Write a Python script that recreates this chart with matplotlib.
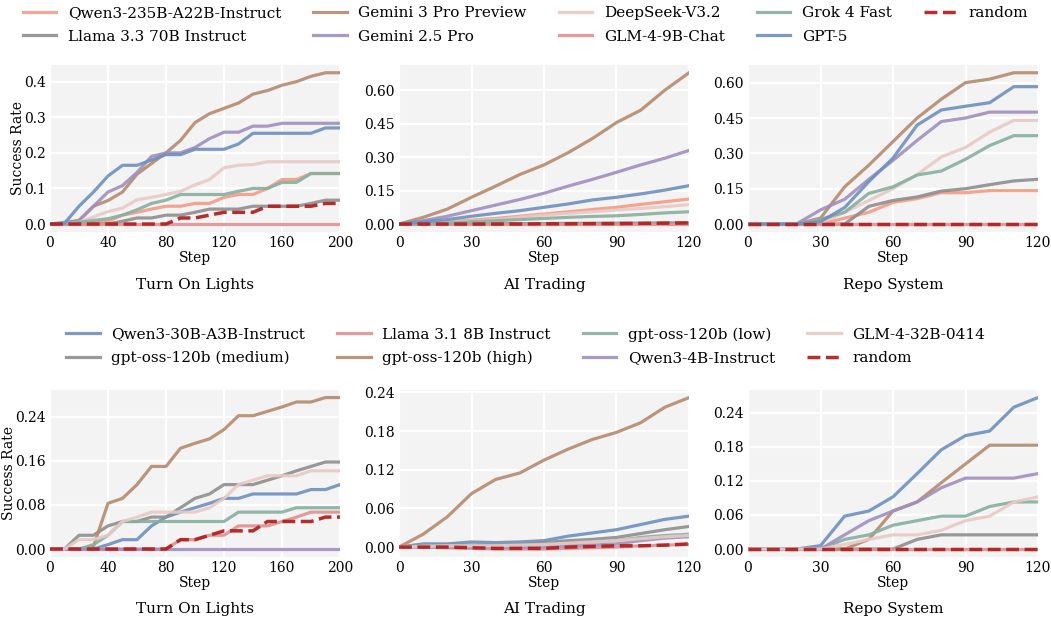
import matplotlib
matplotlib.use("Agg")
import matplotlib.pyplot as plt
from matplotlib.ticker import MultipleLocator

plt.rcParams['font.family'] = ['DejaVu Serif']

# ---------------- data ----------------
steps_lights = [0, 10, 20, 30, 40, 50, 60, 70, 80, 90, 100, 110, 120, 130, 140, 150, 160, 170, 180, 190, 200]
steps_trading = [0, 10, 20, 30, 40, 50, 60, 70, 80, 90, 100, 110, 120]
steps_repo = [0, 10, 20, 30, 40, 50, 60, 70, 80, 90, 100, 110, 120]

top_models = ["Qwen3-235B-A22B-Instruct", "Llama 3.3 70B Instruct", "Gemini 3 Pro Preview",
              "Gemini 2.5 Pro", "DeepSeek-V3.2", "GLM-4-9B-Chat", "Grok 4 Fast", "GPT-5", "random"]
top_colors = ["#F39C86", "#8E8E8E", "#B58B6E", "#A08FBF", "#E8C9C7", "#E09090", "#86B09F", "#6E90BE", "#B22222"]

bottom_models = ["Qwen3-30B-A3B-Instruct", "gpt-oss-120b (medium)", "Llama 3.1 8B Instruct",
                 "gpt-oss-120b (high)", "gpt-oss-120b (low)", "Qwen3-4B-Instruct", "GLM-4-32B-0414", "random"]
bottom_colors = ["#6E90BE", "#8E8E8E", "#E09090", "#B58B6E", "#86B09F", "#A08FBF", "#E8C9C7", "#B22222"]

# Top row: Turn On Lights
t_lights_qwen235 = [0, 0, 0, 0.005, 0.008, 0.025, 0.033, 0.042, 0.05, 0.05, 0.058, 0.058, 0.075, 0.083, 0.083, 0.1, 0.125, 0.125, 0.142, 0.142, 0.142]
t_lights_llama33 = [0, 0, 0, 0, 0, 0.008, 0.017, 0.017, 0.025, 0.025, 0.033, 0.042, 0.042, 0.042, 0.05, 0.05, 0.05, 0.05, 0.058, 0.067, 0.067]
t_lights_gem3 = [0, 0, 0.01, 0.05, 0.066, 0.09, 0.14, 0.17, 0.2, 0.235, 0.285, 0.31, 0.325, 0.34, 0.365, 0.375, 0.39, 0.40, 0.415, 0.425, 0.425]
t_lights_gem25 = [0, 0.005, 0.01, 0.05, 0.09, 0.108, 0.145, 0.19, 0.2, 0.2, 0.215, 0.24, 0.258, 0.258, 0.275, 0.275, 0.283, 0.283, 0.283, 0.283, 0.283]
t_lights_deepseek = [0, 0, 0.005, 0.02, 0.035, 0.045, 0.068, 0.075, 0.083, 0.092, 0.11, 0.125, 0.158, 0.165, 0.167, 0.175, 0.175, 0.175, 0.175, 0.175, 0.175]
t_lights_glm9 = [0, 0, 0, 0, 0, 0, 0, 0, 0, 0, 0, 0, 0, 0, 0, 0, 0, 0, 0, 0, 0]
t_lights_grok = [0, 0, 0.005, 0.01, 0.015, 0.025, 0.04, 0.058, 0.067, 0.083, 0.083, 0.083, 0.083, 0.092, 0.1, 0.1, 0.117, 0.117, 0.142, 0.142, 0.142]
t_lights_gpt5 = [0, 0.002, 0.05, 0.09, 0.135, 0.165, 0.165, 0.18, 0.195, 0.195, 0.21, 0.21, 0.21, 0.225, 0.255, 0.255, 0.255, 0.255, 0.255, 0.27, 0.27]
t_lights_random = [0, 0, 0, 0, 0, 0, 0, 0, 0, 0.017, 0.017, 0.025, 0.033, 0.033, 0.033, 0.05, 0.05, 0.05, 0.05, 0.058, 0.058]

# Top row: AI Trading
t_trading_qwen235 = [0, 0.005, 0.01, 0.018, 0.025, 0.035, 0.045, 0.055, 0.065, 0.075, 0.088, 0.1, 0.112]
t_trading_llama33 = [0, 0, 0, 0.001, 0.001, 0.002, 0.002, 0.003, 0.003, 0.004, 0.004, 0.005, 0.005]
t_trading_gem3 = [0, 0.03, 0.067, 0.12, 0.17, 0.222, 0.265, 0.32, 0.383, 0.455, 0.51, 0.60, 0.678]
t_trading_gem25 = [0, 0.015, 0.035, 0.06, 0.085, 0.11, 0.138, 0.17, 0.2, 0.232, 0.265, 0.295, 0.33]
t_trading_deepseek = [0, 0.003, 0.008, 0.013, 0.02, 0.03, 0.04, 0.048, 0.055, 0.063, 0.07, 0.078, 0.087]
t_trading_glm9 = [0, 0, 0, 0, 0, 0, 0, 0, 0, 0, 0, 0, 0]
t_trading_grok = [0, 0.002, 0.004, 0.01, 0.015, 0.02, 0.025, 0.03, 0.034, 0.037, 0.043, 0.05, 0.055]
t_trading_gpt5 = [0, 0.01, 0.02, 0.035, 0.048, 0.06, 0.075, 0.09, 0.108, 0.12, 0.135, 0.152, 0.172]
t_trading_random = [0, 0, 0, 0, 0, 0, 0.001, 0.001, 0.002, 0.002, 0.003, 0.004, 0.005]

# Top row: Repo System
t_repo_qwen235 = [0, 0, 0, 0, 0.025, 0.05, 0.092, 0.108, 0.133, 0.133, 0.142, 0.142, 0.142]
t_repo_llama33 = [0, 0, 0, 0, 0, 0.075, 0.1, 0.115, 0.14, 0.15, 0.167, 0.183, 0.19]
t_repo_gem3 = [0, 0, 0, 0.025, 0.158, 0.25, 0.35, 0.45, 0.53, 0.6, 0.615, 0.642, 0.642]
t_repo_gem25 = [0, 0, 0, 0.06, 0.105, 0.19, 0.27, 0.355, 0.435, 0.45, 0.475, 0.475, 0.475]
t_repo_deepseek = [0, 0, 0, 0.005, 0.05, 0.1, 0.15, 0.21, 0.285, 0.325, 0.39, 0.44, 0.44]
t_repo_glm9 = [0, 0, 0, 0, 0, 0, 0, 0, 0, 0, 0, 0, 0]
t_repo_grok = [0, 0, 0, 0.02, 0.05, 0.13, 0.158, 0.208, 0.225, 0.275, 0.333, 0.375, 0.375]
t_repo_gpt5 = [0, 0, 0, 0.01, 0.07, 0.18, 0.28, 0.42, 0.484, 0.5, 0.515, 0.583, 0.583]
t_repo_random = [0, 0, 0, 0, 0, 0, 0, 0, 0, 0, 0, 0, 0]

# Bottom row: Turn On Lights
b_lights_qwen30 = [0, 0, 0, 0, 0.008, 0.017, 0.017, 0.042, 0.058, 0.067, 0.075, 0.083, 0.092, 0.092, 0.1, 0.1, 0.1, 0.1, 0.108, 0.108, 0.117]
b_lights_oss_med = [0, 0, 0.025, 0.025, 0.042, 0.05, 0.05, 0.058, 0.058, 0.075, 0.092, 0.1, 0.117, 0.117, 0.117, 0.125, 0.133, 0.142, 0.15, 0.158, 0.158]
b_lights_llama31 = [0, 0, 0, 0, 0, 0, 0, 0, 0, 0.017, 0.017, 0.025, 0.025, 0.042, 0.042, 0.042, 0.05, 0.058, 0.067, 0.067, 0.067]
b_lights_oss_high = [0, 0, 0, 0.005, 0.083, 0.092, 0.117, 0.15, 0.15, 0.183, 0.192, 0.2, 0.217, 0.242, 0.242, 0.25, 0.258, 0.267, 0.267, 0.275, 0.275]
b_lights_oss_low = [0, 0, 0, 0.008, 0.025, 0.05, 0.05, 0.05, 0.05, 0.05, 0.05, 0.05, 0.05, 0.067, 0.067, 0.067, 0.067, 0.075, 0.075, 0.075, 0.075]
b_lights_qwen4 = [0, 0, 0, 0, 0, 0, 0, 0, 0, 0, 0, 0, 0, 0, 0, 0, 0, 0, 0, 0, 0]
b_lights_glm32 = [0, 0, 0.017, 0.017, 0.025, 0.05, 0.058, 0.067, 0.067, 0.067, 0.067, 0.075, 0.092, 0.117, 0.125, 0.133, 0.133, 0.133, 0.142, 0.142, 0.142]
b_lights_random = [0, 0, 0, 0, 0, 0, 0, 0, 0, 0.017, 0.017, 0.025, 0.033, 0.033, 0.033, 0.05, 0.05, 0.05, 0.05, 0.058, 0.058]

# Bottom row: AI Trading
b_trading_qwen30 = [0, 0.005, 0.005, 0.008, 0.007, 0.008, 0.01, 0.017, 0.022, 0.027, 0.035, 0.043, 0.048]
b_trading_oss_med = [0, 0.002, 0.003, 0.003, 0.003, 0.004, 0.007, 0.01, 0.012, 0.015, 0.021, 0.027, 0.032]
b_trading_llama31 = [0, 0, -0.001, -0.002, -0.003, -0.003, -0.003, -0.002, -0.001, 0, 0.002, 0.003, 0.004]
b_trading_oss_high = [0, 0.02, 0.047, 0.083, 0.105, 0.115, 0.135, 0.152, 0.167, 0.178, 0.193, 0.217, 0.232]
b_trading_oss_low = [0, 0.002, 0.002, 0.003, 0.003, 0.003, 0.004, 0.006, 0.008, 0.01, 0.015, 0.018, 0.02]
b_trading_qwen4 = [0, 0, 0, 0, 0, 0, 0, 0.002, 0.003, 0.005, 0.01, 0.014, 0.016]
b_trading_glm32 = [0, 0.001, 0.002, 0.002, 0.002, 0.003, 0.004, 0.006, 0.008, 0.01, 0.013, 0.016, 0.018]
b_trading_random = [0, 0, 0, -0.001, -0.002, -0.002, -0.002, 0, 0.001, 0.002, 0.002, 0.003, 0.005]

# Bottom row: Repo System
b_repo_qwen30 = [0, 0, 0, 0.006, 0.058, 0.067, 0.092, 0.133, 0.175, 0.2, 0.208, 0.25, 0.267]
b_repo_oss_med = [0, 0, 0, 0, 0, 0, 0, 0.017, 0.025, 0.025, 0.025, 0.025, 0.025]
b_repo_llama31 = [0, 0, 0, 0, 0, 0, 0, 0, 0, 0, 0, 0, 0]
b_repo_oss_high = [0, 0, 0, 0, 0, 0.017, 0.067, 0.083, 0.117, 0.15, 0.183, 0.183, 0.183]
b_repo_oss_low = [0, 0, 0, 0, 0.017, 0.025, 0.042, 0.05, 0.058, 0.058, 0.075, 0.083, 0.083]
b_repo_qwen4 = [0, 0, 0, 0, 0.025, 0.05, 0.067, 0.083, 0.108, 0.125, 0.125, 0.125, 0.133]
b_repo_glm32 = [0, 0, 0, 0, 0.008, 0.017, 0.025, 0.025, 0.033, 0.05, 0.058, 0.083, 0.092]
b_repo_random = [0, 0, 0, 0, 0, 0, 0, 0, 0, 0, 0, 0, 0]

task_titles = ["Turn On Lights", "AI Trading", "Repo System"]
x_ticks_lights = [0, 40, 80, 120, 160, 200]
x_ticks_other = [0, 30, 60, 90, 120]

top_series = [
    [t_lights_qwen235, t_lights_llama33, t_lights_gem3, t_lights_gem25, t_lights_deepseek, t_lights_glm9, t_lights_grok, t_lights_gpt5, t_lights_random],
    [t_trading_qwen235, t_trading_llama33, t_trading_gem3, t_trading_gem25, t_trading_deepseek, t_trading_glm9, t_trading_grok, t_trading_gpt5, t_trading_random],
    [t_repo_qwen235, t_repo_llama33, t_repo_gem3, t_repo_gem25, t_repo_deepseek, t_repo_glm9, t_repo_grok, t_repo_gpt5, t_repo_random],
]
bottom_series = [
    [b_lights_qwen30, b_lights_oss_med, b_lights_llama31, b_lights_oss_high, b_lights_oss_low, b_lights_qwen4, b_lights_glm32, b_lights_random],
    [b_trading_qwen30, b_trading_oss_med, b_trading_llama31, b_trading_oss_high, b_trading_oss_low, b_trading_qwen4, b_trading_glm32, b_trading_random],
    [b_repo_qwen30, b_repo_oss_med, b_repo_llama31, b_repo_oss_high, b_repo_oss_low, b_repo_qwen4, b_repo_glm32, b_repo_random],
]
steps_all = [steps_lights, steps_trading, steps_repo]
xticks_all = [x_ticks_lights, x_ticks_other, x_ticks_other]
top_ystep = [0.1, 0.15, 0.15]
bottom_ystep = [0.08, 0.06, 0.06]

# ---------------- figure ----------------
W, H = 1051, 621
fig = plt.figure(figsize=(W / 100, H / 100), dpi=100)

lefts = [50, 399, 748]
ax_w = 290
top_rows = (65.2, 231.6)
bot_rows = (390.0, 556.6)


def make_ax(left_px, top_px, bottom_px):
    return fig.add_axes([left_px / W, 1 - bottom_px / H, ax_w / W, (bottom_px - top_px) / H])


def style(ax, xt, ystep, steps):
    ax.set_facecolor("#F3F3F3")
    for s in ax.spines.values():
        s.set_visible(False)
    ax.grid(True, color="white", linewidth=1.6)
    ax.set_axisbelow(True)
    ax.tick_params(length=0, labelsize=10, pad=3)
    ax.set_xlim(steps[0], steps[-1])
    ax.set_xticks(xt)
    ax.yaxis.set_major_locator(MultipleLocator(ystep))
    ax.set_xlabel("Step", fontsize=10, labelpad=1)


def draw(ax, series, names, colors, steps):
    handles = []
    for vals, name, col in zip(series, names, colors):
        if name == "random":
            h, = ax.plot(steps, vals, color=col, lw=2.5, ls="--", alpha=0.95, label=name)
        else:
            h, = ax.plot(steps, vals, color=col, lw=2.3, alpha=0.9, label=name)
        handles.append(h)
    return handles


top_handles = None
bottom_handles = None
for i in range(3):
    ax = make_ax(lefts[i], *top_rows)
    hs = draw(ax, top_series[i], top_models, top_colors, steps_all[i])
    style(ax, xticks_all[i], top_ystep[i], steps_all[i])
    if i == 0:
        ax.set_ylabel("Success Rate", fontsize=10)
        ax.yaxis.set_label_coords((25 - 50) / ax_w, 0.5)
        top_handles = hs
    fig.text((lefts[i] + ax_w / 2) / W, 1 - 285 / H, task_titles[i], ha="center", va="center", fontsize=11)

    ax = make_ax(lefts[i], *bot_rows)
    hs = draw(ax, bottom_series[i], bottom_models, bottom_colors, steps_all[i])
    style(ax, xticks_all[i], bottom_ystep[i], steps_all[i])
    if i == 0:
        ax.set_ylabel("Success Rate", fontsize=10)
        ax.yaxis.set_label_coords((16 - 50) / ax_w, 0.5)
        bottom_handles = hs
    fig.text((lefts[i] + ax_w / 2) / W, 1 - 609 / H, task_titles[i], ha="center", va="center", fontsize=11)

leg_kw = dict(loc="upper center", frameon=False, prop={"family": "DejaVu Serif", "size": 11},
              handlelength=2.2, handletextpad=0.75, columnspacing=2.1, labelspacing=0.62,
              borderaxespad=0.0)
fig.legend(top_handles, top_models, bbox_to_anchor=(0.5, 1.0), ncol=5, **leg_kw)
fig.legend(bottom_handles, bottom_models, bbox_to_anchor=(0.5, 1.0 - 321 / H), ncol=4, **leg_kw)

fig.savefig("out.png", dpi=100)
